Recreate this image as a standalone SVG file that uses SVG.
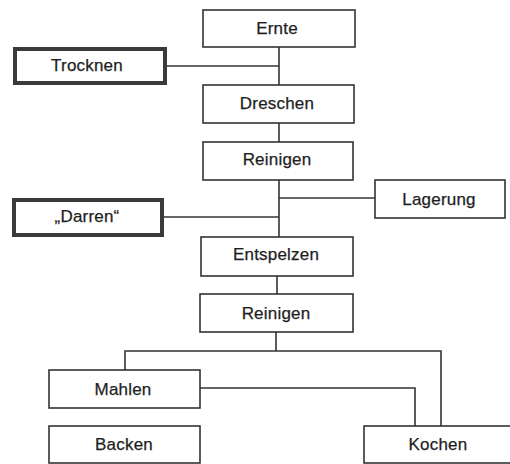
<svg xmlns="http://www.w3.org/2000/svg" width="510" height="464" viewBox="0 0 510 464">
<style>
.box{fill:#fff;stroke:#333;stroke-width:1.6}
.thick{fill:#fff;stroke:#3a3a3a;stroke-width:4}
.lbl{font-family:"Liberation Sans",Arial,sans-serif;font-size:17px;letter-spacing:0.2px;fill:#1e1e1e;stroke:#1e1e1e;stroke-width:0.25;text-anchor:middle}
.ln{fill:none;stroke:#333;stroke-width:1.6}
</style>
<rect width="510" height="464" fill="#fff"/>
<g id="connectors">
<path class="ln" d="M279,47 V85"/>
<path class="ln" d="M166,66 H279"/>
<path class="ln" d="M279,123 V142"/>
<path class="ln" d="M279,180 V237"/>
<path class="ln" d="M279,198 H375"/>
<path class="ln" d="M163,217 H279"/>
<path class="ln" d="M277,276 V294"/>
<path class="ln" d="M276,332 V351"/>
<path class="ln" d="M125,370 V351 H441 V426"/>
<path class="ln" d="M200,388 H415 V426"/>
</g>
<g id="ernte"><rect class="box" x="203" y="10" width="152" height="37"/><text class="lbl" x="277" y="33.5">Ernte</text></g>
<g id="trocknen"><rect class="thick" x="15" y="49" width="150" height="34"/><text class="lbl" x="87" y="71">Trocknen</text></g>
<g id="dreschen"><rect class="box" x="203" y="85" width="151" height="38"/><text class="lbl" x="277" y="108.5">Dreschen</text></g>
<g id="reinigen1"><rect class="box" x="203" y="142" width="150" height="38"/><text class="lbl" x="277" y="164.5">Reinigen</text></g>
<g id="lagerung"><rect class="box" x="375" y="180" width="130" height="38"/><text class="lbl" x="439" y="204.5">Lagerung</text></g>
<g id="darren"><rect class="thick" x="14" y="200" width="148" height="35"/><text class="lbl" x="87" y="222">„Darren“</text></g>
<g id="entspelzen"><rect class="box" x="201" y="237" width="152" height="39"/><text class="lbl" x="276" y="260">Entspelzen</text></g>
<g id="reinigen2"><rect class="box" x="200" y="294" width="153" height="38"/><text class="lbl" x="276" y="318.5">Reinigen</text></g>
<g id="mahlen"><rect class="box" x="49" y="370" width="151" height="38"/><text class="lbl" x="123" y="395">Mahlen</text></g>
<g id="backen"><rect class="box" x="49" y="426" width="151" height="37"/><text class="lbl" x="124" y="449.5">Backen</text></g>
<g id="kochen"><rect class="box" x="364" y="426" width="150" height="37"/><text class="lbl" x="438" y="449.5">Kochen</text></g>
</svg>
